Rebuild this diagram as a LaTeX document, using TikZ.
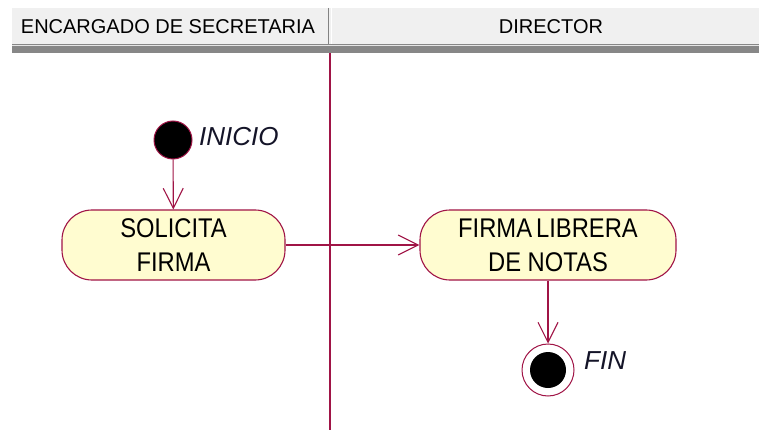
\documentclass[tikz,border=0pt]{standalone}
\usepackage{fontspec}
\setmainfont{Liberation Sans}
\newfontfamily\condfont{Liberation Sans}[FakeStretch=0.88]
\usetikzlibrary{arrows.meta}
\definecolor{rosered}{RGB}{160,20,70}
\definecolor{actfill}{RGB}{255,252,208}
\definecolor{hdrfill}{RGB}{240,240,240}
\definecolor{hdrline}{RGB}{135,135,135}
\definecolor{txtdark}{RGB}{20,20,40}
\tikzset{
  activity/.style={draw=rosered, fill=actfill, line width=1.1pt, rounded corners=30pt,
    minimum height=70pt, inner sep=0pt, align=center, text=black,
    font=\condfont\fontsize{27}{34}\selectfont},
  flow/.style={draw=rosered, line width=1.1pt, -{Straight Barb[length=20pt,width=20pt,line width=1.1pt]}},
  plainflow/.style={draw=rosered, line width=1.1pt},
  startnode/.style={circle, draw=rosered, fill=black, line width=1pt, minimum size=38pt, inner sep=0pt},
  endnode/.style={circle, draw=rosered, fill=white, line width=1pt, minimum size=52pt, inner sep=0pt},
  endcore/.style={circle, fill=black, minimum size=36pt, inner sep=0pt},
  lbl/.style={font=\fontsize{26}{30}\selectfont\itshape, text=txtdark, anchor=west, inner sep=0pt},
  hdrtext/.style={font=\fontsize{20}{24}\selectfont, text=black, inner sep=0pt}
}
\begin{document}
\begin{tikzpicture}[x=1pt,y=-1pt]
\useasboundingbox (0,0) rectangle (759,430);
\fill[white] (0,0) rectangle (759,430);
% header
\fill[hdrfill] (12,8) rectangle (759,44);
\fill[hdrline] (12,44) rectangle (759,53);
\draw[white!80!gray, line width=0.8pt] (12,45) -- (759,45);
\draw[gray!60!black!70, line width=1.8pt] (328.5,8) -- (328.5,44);
\draw[white, line width=1pt] (331,8) -- (331,44);
\node[hdrtext] (h1) at (168,27) {ENCARGADO DE SECRETARIA};
\node[hdrtext] (h2) at (551,27) {DIRECTOR};
% lane line
\coordinate (laneTop) at (330,53);
\coordinate (laneBot) at (330,430);
\draw[plainflow] (laneTop) -- (laneBot);
% nodes
\node[startnode] (ini) at (173,140) {};
\node[lbl] (inilbl) at (199,137) {INICIO};
\node[activity, minimum width=223pt] (sol) at (173.5,245) {SOLICITA\\FIRMA};
\node[activity, minimum width=256pt] (fl) at (548,245) {FIRMA\kern4pt LIBRERA\\DE NOTAS};
\node[endnode] (fin) at (548,370) {};
\node[endcore] (fincore) at (fin.center) {};
\node[lbl] (finlbl) at (584,361) {FIN};
% connectors
\draw[flow] (ini) -- (sol);
\draw[flow] (sol) -- (fl);
\draw[flow] (fl) -- (fin);
\end{tikzpicture}
\end{document}
